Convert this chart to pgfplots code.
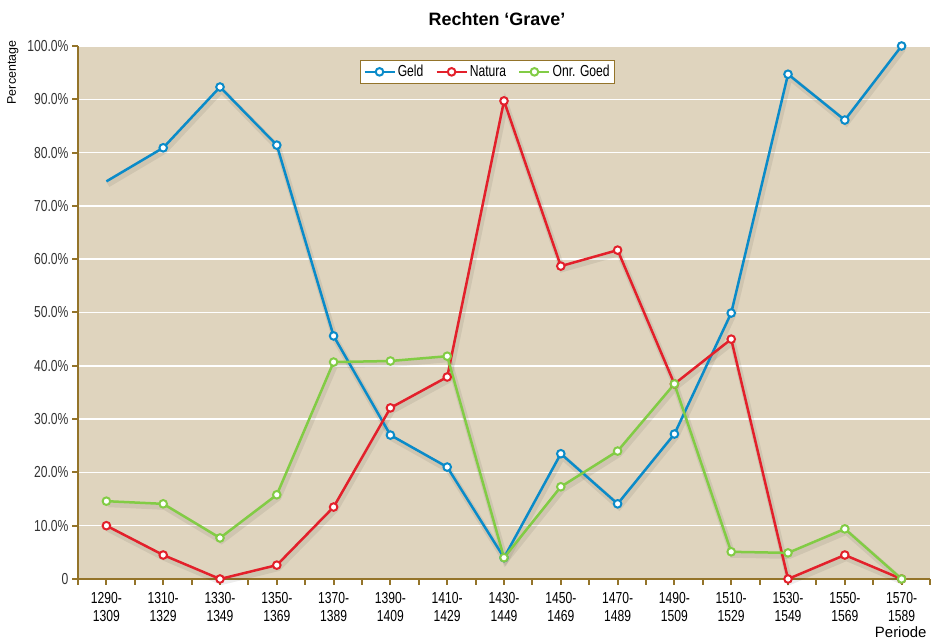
\documentclass[border=0pt]{standalone}
\usepackage{fontspec}
\setmainfont{Liberation Sans}
\newfontfamily\condfont{Liberation Sans}[FakeStretch=0.76]
\usepackage{pgfplots}
\usepackage{pgfplotstable}
\pgfplotsset{compat=1.18}
\definecolor{bg}{HTML}{DFD4BE}
\definecolor{axbrown}{HTML}{94742A}
\definecolor{geld}{HTML}{0A8BC9}
\definecolor{natura}{HTML}{E3202B}
\definecolor{onr}{HTML}{82CC45}
\definecolor{lbl}{HTML}{333333}
\pgfplotstableread{
x geld natura onr
0 74.6 10.0 14.6
1 80.9 4.5 14.1
2 92.3 0 7.7
3 81.4 2.6 15.8
4 45.6 13.5 40.7
5 27.0 32.1 40.9
6 21.0 37.9 41.8
7 4.0 89.7 4.0
8 23.5 58.7 17.3
9 14.1 61.7 24.0
10 27.2 36.6 36.6
11 49.9 45.0 5.1
12 94.7 0 4.9
13 86.1 4.5 9.4
14 100 0 0
}\data
\begin{document}
\begin{tikzpicture}[x=1bp,y=1bp]
\path[use as bounding box] (0,0) rectangle (932,640);
\node[font=\bfseries\fontsize{18}{20}\selectfont] at (497,621) {Rechten ‘Grave’};
\node[font=\fontsize{12.5}{14}\selectfont, rotate=90] at (13,567.5) {Percentage};
\node[font=\fontsize{15}{16}\selectfont, anchor=base east] at (930,2) {Periode};
\begin{axis}[
  at={(78bp,61bp)}, anchor=south west,
  scale only axis, width=852bp, height=533bp,
  xmin=-0.5, xmax=14.5, ymin=0, ymax=100,
  clip=false,
  axis background/.style={fill=bg},
  axis x line*=bottom, axis y line*=left,
  axis line style={axbrown, line width=2bp, -},
  tick style={axbrown, line width=2bp},
  tick align=outside, major tick length=6bp,
  ytick={0,10,...,100},
  yticklabels={0,10.0\%,20.0\%,30.0\%,40.0\%,50.0\%,60.0\%,70.0\%,80.0\%,90.0\%,100.0\%},
  ymajorgrids, grid style={white, line width=1.5bp},
  xtick={-0.5,0.5,...,14.5}, xticklabels={},
  extra x ticks={0,1,...,14},
  extra x tick labels={{1290-\\1309},{1310-\\1329},{1330-\\1349},{1350-\\1369},{1370-\\1389},{1390-\\1409},{1410-\\1429},{1430-\\1449},{1450-\\1469},{1470-\\1489},{1490-\\1509},{1510-\\1529},{1530-\\1549},{1550-\\1569},{1570-\\1589}},
  extra x tick style={draw=none, tick label style={align=center, text=black, yshift=-4bp, font=\condfont\fontsize{16}{18}\selectfont}},
  ticklabel style={font=\condfont\fontsize{16}{17}\selectfont},
  yticklabel style={text=lbl},
  legend style={at={(0.4806,0.974)}, anchor=north, draw=axbrown, line width=1bp, fill=white,
    legend columns=-1, font=\condfont\fontsize{16}{17}\selectfont,
    inner sep=3bp,
    /tikz/every even column/.append style={column sep=10bp}},
  legend image code/.code={\draw[mark repeat=2,mark phase=2] plot coordinates {(0bp,0bp)(15bp,0bp)(30bp,0bp)};},
  every axis plot/.append style={line width=2.5bp, mark=*, mark size=3.8bp, mark options={fill=white, line width=2bp, solid}},
]
\addplot[forget plot, black, opacity=0.07, line width=6bp, no marks, xshift=1.5bp, yshift=-3bp] table[x=x,y=geld] {\data};
\addplot[forget plot, black, opacity=0.07, line width=6bp, no marks, xshift=1.5bp, yshift=-3bp] table[x=x,y=natura] {\data};
\addplot[forget plot, black, opacity=0.07, line width=6bp, no marks, xshift=1.5bp, yshift=-3bp] table[x=x,y=onr] {\data};
\addplot[geld, mark repeat=1, mark phase=2] table[x=x,y=geld] {\data};
\addlegendentry{Geld}
\addplot[natura] table[x=x,y=natura] {\data};
\addlegendentry{Natura}
\addplot[onr] table[x=x,y=onr] {\data};
\addlegendentry{Onr. Goed}
\end{axis}
\end{tikzpicture}
\end{document}
